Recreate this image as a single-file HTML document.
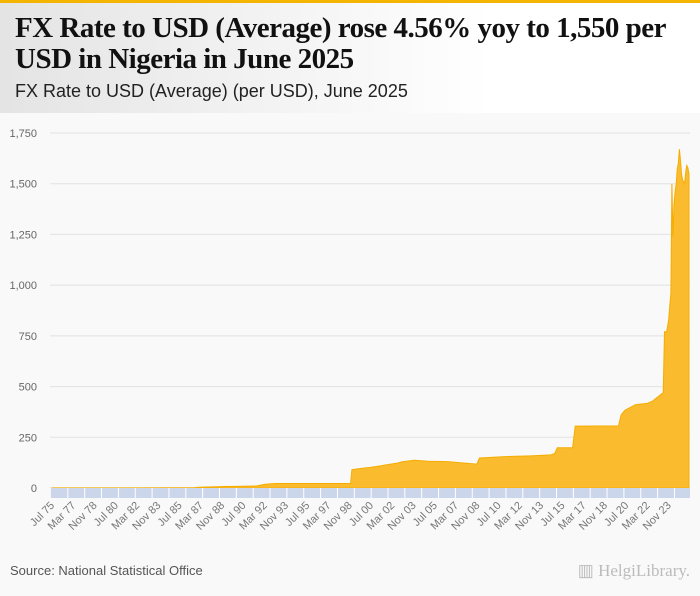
<!DOCTYPE html>
<html><head><meta charset="utf-8"><style>
body{margin:0;width:700px;height:596px;background:#f9f9f9;font-family:"Liberation Sans",sans-serif;overflow:hidden;position:relative}
#hdr{position:absolute;left:0;top:0;width:700px;height:113px;background:linear-gradient(90deg,#e4e4e4,#ffffff 70%)}
#bar{position:absolute;left:0;top:0;width:700px;height:3px;background:#f5b400}
#title{position:absolute;left:15px;top:13px;font-family:"Liberation Serif",serif;font-weight:bold;font-size:29px;line-height:31px;color:#111;letter-spacing:-0.5px;white-space:nowrap}
#sub{position:absolute;left:15px;top:81px;font-size:18px;color:#222}
#src{position:absolute;left:10px;top:563px;font-size:13px;color:#555}
#logo{position:absolute;right:10px;top:561px;font-size:17px;color:#bbb;font-family:"Liberation Serif",serif}
svg{position:absolute;left:0;top:0}
</style></head><body>
<div id="hdr"></div>
<div id="bar"></div>
<div id="title">FX Rate to USD (Average) rose 4.56% yoy to 1,550 per<br>USD in Nigeria in June 2025</div>
<div id="sub">FX Rate to USD (Average) (per USD), June 2025</div>
<svg id="chart" width="700" height="596"></svg>
<div id="src">Source: National Statistical Office</div>
<div id="logo">▥ HelgiLibrary.</div>
<script>
const yTicks=[0,250,500,750,1000,1250,1500,1750];
const yTickLabels=["0","250","500","750","1,000","1,250","1,500","1,750"];
const xTickLabels=["Jul 75","Mar 77","Nov 78","Jul 80","Mar 82","Nov 83","Jul 85","Mar 87","Nov 88","Jul 90","Mar 92","Nov 93","Jul 95","Mar 97","Nov 98","Jul 00","Mar 02","Nov 03","Jul 05","Mar 07","Nov 08","Jul 10","Mar 12","Nov 13","Jul 15","Mar 17","Nov 18","Jul 20","Mar 22","Nov 23"];
const dates=[1975.5,1980,1985,1986.7,1987,1989,1990,1991.5,1992.2,1993,1998.9,1999,1999.5,2000.5,2001.5,2002.5,2003,2003.9,2005,2006.5,2007.4,2008.8,2009,2011,2013,2014.6,2014.9,2015.1,2016.3,2016.5,2019.9,2020.1,2020.4,2021.2,2022.2,2022.6,2022.9,2023.2,2023.4,2023.5,2023.58,2023.67,2023.75,2023.83,2023.92,2024.0,2024.08,2024.17,2024.25,2024.33,2024.42,2024.5,2024.58,2024.67,2024.75,2024.83,2024.92,2025.0,2025.08,2025.17,2025.25,2025.33,2025.42];
const values=[0.62,0.55,0.9,2,4,7.5,8,10,18,22,22,90,95,102,112,122,130,137,132,130,125,118,148,155,158,163,170,198,198,305,306,360,383,410,418,430,445,460,470,770,770,770,800,830,900,960,1500,1240,1400,1460,1500,1570,1600,1670,1620,1550,1520,1510,1500,1560,1590,1580,1550];
const NS="http://www.w3.org/2000/svg";
const svg=document.getElementById('chart');
const X0=52,X1=690,T0=1975.5,T1=2025.5,Y0=488,PX=355/1750;
const xs=t=>X0+(t-T0)/(T1-T0)*(X1-X0);
const ys=v=>Y0-v*PX;
function mk(tag,attrs){const e=document.createElementNS(NS,tag);for(const k in attrs)e.setAttribute(k,attrs[k]);svg.appendChild(e);return e;}
yTicks.forEach((v,i)=>{
  const g=mk('line',{x1:50,x2:690,y1:ys(v),y2:ys(v),stroke:'#e2e2e2','stroke-width':1});
  
  
  const t=mk('text',{x:37,y:ys(v)+4,'text-anchor':'end','font-size':11,fill:'#666','font-family':'Liberation Sans, sans-serif'});
  t.textContent=yTickLabels[i];
  
  
});
let d='M'+xs(dates[0])+','+Y0;
dates.forEach((t,i)=>{d+=' L'+xs(t).toFixed(1)+','+ys(values[i]).toFixed(1);});
d+=' L'+xs(dates[dates.length-1]).toFixed(1)+','+Y0+' Z';
const area=mk('path',{d:d,fill:'#fabb2f',stroke:'#f5ad00','stroke-width':1});


const band=mk('rect',{x:51,y:488,width:639,height:10,fill:'#ccd6ea'});


for(let k=1;k<38;k++){
  const bx=51+k*16.85;
  const l=mk('line',{x1:bx,x2:bx,y1:488,y2:498,stroke:'#fff','stroke-width':1});
  
  
}
xTickLabels.forEach((s,i)=>{
  const tx=xs(T0+i*20/12)+3;
  const t=mk('text',{x:tx,y:506,'text-anchor':'end','font-size':11,fill:'#777','font-family':'Liberation Sans, sans-serif',transform:'rotate(-45 '+tx+' 506)'});
  t.textContent=s;
  
  
});
</script>
</body></html>
